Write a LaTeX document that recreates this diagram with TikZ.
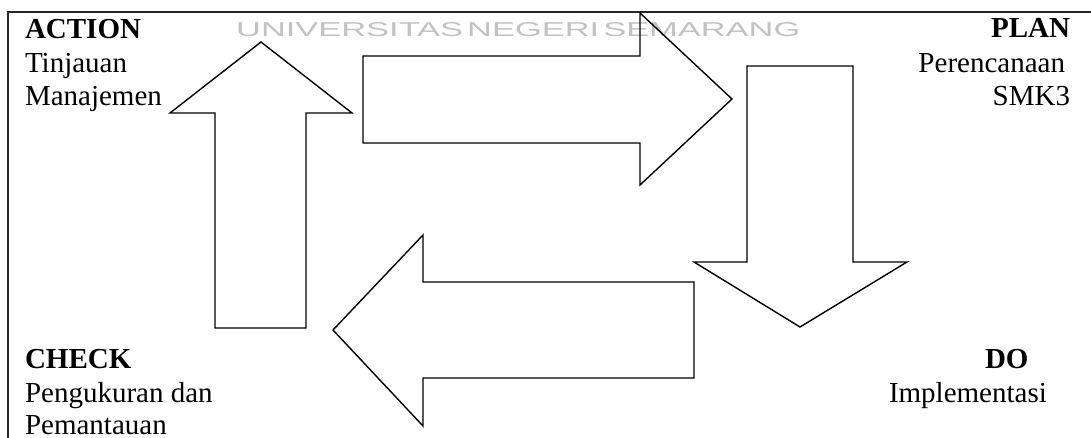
\documentclass[tikz,border=0pt]{standalone}
\usepackage{fontspec}
\setmainfont{Liberation Serif}
\newfontfamily\wmfont{Liberation Sans}
\begin{document}
\begin{tikzpicture}[x=1pt,y=-1pt,
  txt/.style={inner sep=0pt,outer sep=0pt,font=\fontsize{29}{33}\selectfont},
  head/.style={txt,font=\fontsize{29}{33}\selectfont\bfseries},
  blockarrow/.style={draw=black,line width=1.4pt,line join=miter}]
\useasboundingbox (0,0) rectangle (1091,438);
% watermark
\node[inner sep=0pt,anchor=base west,text=black!24] (wm) at (236,37)
  {\resizebox{564pt}{14pt}{\wmfont UNIVERSITAS\hspace{0.12em}NEGERI\hspace{0.12em}SEMARANG}};
% frame
\draw[line width=1.4pt,black!85] (8,438) -- (8,12) -- (1091,12);
% arrows
\draw[blockarrow] (215,328) -- (215,113) -- (170,113) -- (261,42) -- (352,113) -- (306,113) -- (306,328) -- cycle;
\draw[blockarrow] (363,56) -- (640,56) -- (640,13) -- (732,99) -- (640,185) -- (640,143) -- (363,143) -- cycle;
\draw[blockarrow] (747,66) -- (853,66) -- (853,262) -- (907,262) -- (800,327) -- (694,262) -- (747,262) -- cycle;
\draw[blockarrow] (694,282) -- (423,282) -- (423,235) -- (333,330) -- (423,426) -- (423,378) -- (694,378) -- cycle;
% texts
\node[head,anchor=base west] (action) at (25,39) {ACTION};
\node[txt,anchor=base west] (action1) at (25,73) {Tinjauan};
\node[txt,anchor=base west] (action2) at (25,106) {Manajemen};
\node[head,anchor=base east] (plan) at (1070,38) {PLAN};
\node[txt,anchor=base east] (plan1) at (1065,73) {Perencanaan};
\node[txt,anchor=base east] (plan2) at (1070,106) {SMK3};
\node[head,anchor=base west] (check) at (25,368) {CHECK};
\node[txt,anchor=base west] (check1) at (25,402) {Pengukuran dan};
\node[txt,anchor=base west] (check2) at (25,434) {Pemantauan};
\node[head,anchor=base west] (do) at (985,368) {DO};
\node[txt,anchor=base west] (do1) at (889,402) {Implementasi};
\end{tikzpicture}
\end{document}
